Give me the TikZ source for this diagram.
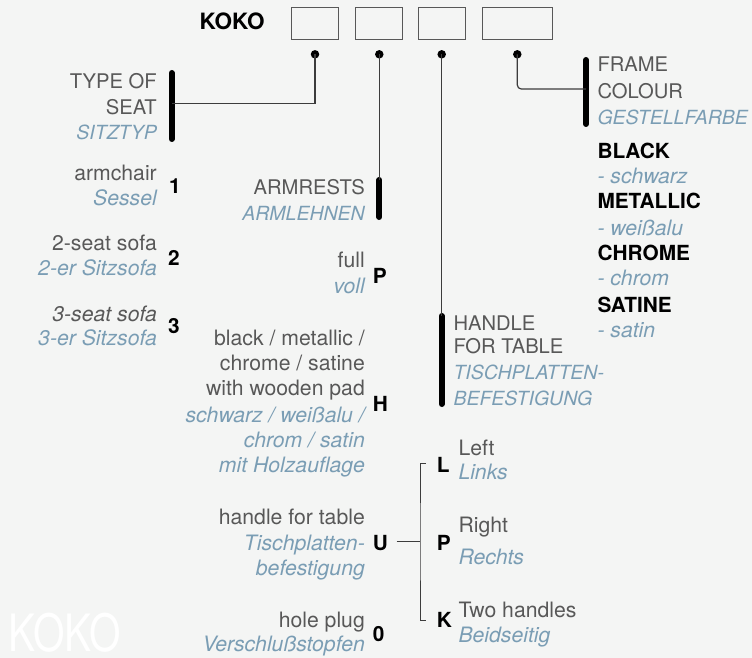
\documentclass[tikz,border=0pt]{standalone}
\usepackage{fontspec}
\setmainfont{TeX Gyre Heros}
\definecolor{bgc}{RGB}{244,245,244}
\definecolor{txtgray}{RGB}{88,88,88}
\definecolor{txtblue}{RGB}{122,157,180}
\definecolor{linec}{RGB}{60,60,60}
\tikzset{
 lbl/.style={inner sep=0pt},
 gr/.style={lbl, text=txtgray, font=\fontsize{21.2}{24}\selectfont},
 grc/.style={lbl, text=txtgray, font=\fontsize{20.2}{24}\selectfont},
 bl/.style={lbl, text=txtblue, font=\fontsize{21.2}{24}\selectfont\itshape},
 blc/.style={lbl, text=txtblue, font=\fontsize{19.5}{24}\selectfont\itshape},
 gri/.style={lbl, text=txtgray, font=\fontsize{21.2}{24}\selectfont\itshape},
 cd/.style={inner sep=0pt, font=\fontsize{20.8}{24}\selectfont\bfseries, text=black},
 rt/.style={anchor=base east}, lt/.style={anchor=base west},
 bar/.style={line width=6pt, line cap=round, draw=black},
 conn/.style={line width=1.2pt, draw=linec},
 dotn/.style={circle, fill=black, inner sep=0pt, minimum size=8.5pt},
 codebox/.style={draw=txtgray, line width=0.8pt, inner sep=0pt, minimum height=31.7pt},
}
\begin{document}
\begin{tikzpicture}[x=1pt,y=-1pt]
\fill[bgc] (0,0) rectangle (752,658);
\useasboundingbox (0,0) rectangle (752,658);
% watermark
\node[anchor=base west, inner sep=0pt, text=white, font=\fontsize{51.5}{52}\selectfont, xscale=0.785] (wm) at (8,651.7) {KOKO};
% title and code boxes
\node[anchor=base west, inner sep=0pt, font=\fontsize{22.5}{24}\selectfont\bfseries] (title) at (199.3,30) {KOKO};
\node[codebox, minimum width=46.6pt] (b1) at (315,23.2) {};
\node[codebox, minimum width=46.6pt] (b2) at (379,23.2) {};
\node[codebox, minimum width=46.6pt] (b3) at (441.7,23.2) {};
\node[codebox, minimum width=70pt] (b4) at (517.3,23.2) {};
% dots
\node[dotn] (d1) at (315,54.3) {};
\node[dotn] (d2) at (379.3,54.3) {};
\node[dotn] (d3) at (441.7,54.3) {};
\node[dotn] (d4) at (517.3,54.3) {};
% bars
\coordinate (s1) at (171.7,73); \coordinate (s2) at (171.7,139);
\coordinate (a1) at (379.3,180); \coordinate (a2) at (379.3,217);
\coordinate (h1) at (441.7,316); \coordinate (h2) at (441.7,404);
\coordinate (f1) at (586,60); \coordinate (f2) at (586,124);
\draw[bar] (s1) -- (s2);
\draw[bar] (a1) -- (a2);
\draw[bar] (h1) -- (h2);
\draw[bar] (f1) -- (f2);
% connectors
\coordinate (sj) at (171.7,103.3);
\coordinate (fj) at (586,89);
\draw[conn] (d1.center) |- (sj);
\draw[conn] (d2.center) -- (a1);
\draw[conn] (d3.center) -- (h1);
\draw[conn, rounded corners=4pt] (d4.center) |- (fj);
% type of seat
\node[grc,rt] (t1) at (157,88.3) {TYPE OF};
\node[grc,rt] (t2) at (157,114.3) {SEAT};
\node[blc,rt] (t3) at (157,139.5) {SITZTYP};
\node[gr,rt] (i1a) at (157,180) {armchair};
\node[bl,rt] (i1b) at (157,205) {Sessel};
\node[cd,lt] (c1) at (169,193) {1};
\node[gr,rt] (i2a) at (157,250) {2-seat sofa};
\node[bl,rt] (i2b) at (157,275.5) {2-er Sitzsofa};
\node[cd,lt] (c2) at (168,265) {2};
\node[gri,rt] (i3a) at (157,321.5) {3-seat sofa};
\node[bl,rt] (i3b) at (157,345.5) {3-er Sitzsofa};
\node[cd,lt] (c3) at (168,333) {3};
% armrests
\node[grc,rt] (ar1) at (365,194.3) {ARMRESTS};
\node[blc,rt] (ar2) at (365,220) {ARMLEHNEN};
\node[gr,rt] (fu1) at (365,267) {full};
\node[bl,rt] (fu2) at (365,293.3) {voll};
\node[cd,lt] (cP) at (372.7,283) {P};
\node[gr,rt] (hw1) at (365,345) {black / metallic /};
\node[gr,rt] (hw2) at (365,370) {chrome / satine};
\node[gr,rt] (hw3) at (365,395.3) {with wooden pad};
\node[bl,rt] (hw4) at (365,422) {schwarz / weißalu /};
\node[bl,rt] (hw5) at (365,447) {chrom / satin};
\node[bl,rt] (hw6) at (365,472.5) {mit Holzauflage};
\node[cd,lt] (cH) at (372.7,411) {H};
\node[gr,rt] (ht1) at (365,524.3) {handle for table};
\node[bl,rt] (ht2) at (365,550.3) {Tischplatten-};
\node[bl,rt] (ht3) at (365,575.3) {befestigung};
\node[cd,lt] (cU) at (372.7,550.3) {U};
\node[gr,rt] (hp1) at (365,627.7) {hole plug};
\node[bl,rt] (hp2) at (365,651) {Verschlußstopfen};
\node[cd,lt] (c0) at (372.7,641) {0};
% handle for table
\node[grc,lt] (hf1) at (453.3,330.3) {HANDLE};
\node[grc,lt] (hf2) at (453.3,353.7) {FOR TABLE};
\node[blc,lt] (hf3) at (453.3,379.7) {TISCHPLATTEN-};
\node[blc,lt] (hf4) at (453.3,405.3) {BEFESTIGUNG};
% handle side
\node[cd,lt] (cL) at (436.7,472) {L};
\node[cd,lt] (cP2) at (436.7,550.3) {P};
\node[cd,lt] (cK) at (436.7,627) {K};
\node[gr,lt] (le1) at (458.3,455.3) {Left};
\node[bl,lt] (le2) at (458.3,479.7) {Links};
\node[gr,lt] (ri1) at (458.3,532) {Right};
\node[bl,lt] (ri2) at (458.3,564.3) {Rechts};
\node[gr,lt] (tw1) at (458.3,617) {Two handles};
\node[bl,lt] (tw2) at (458.3,642) {Beidseitig};
\coordinate (ue) at (396.7,541.5);
\coordinate (uj) at (420,541.5);
\coordinate (bt) at (425.5,463.3);
\coordinate (bb) at (425.5,620);
\draw[conn, line width=1pt] (ue) -- (uj);
\draw[conn, line width=1pt] (bt) -| (uj) |- (bb);
% frame colour
\node[grc,lt] (fr1) at (597.3,72) {FRAME};
\node[grc,lt] (fr2) at (597.3,98.7) {COLOUR};
\node[blc,lt] (fr3) at (597.3,124.3) {GESTELLFARBE};
\node[cd,lt] (fc1) at (597.3,158) {BLACK};
\node[bl,lt] (fc1b) at (597.3,183.7) {- schwarz};
\node[cd,lt] (fc2) at (597.3,208.7) {METALLIC};
\node[bl,lt] (fc2b) at (597.3,235.3) {- weißalu};
\node[cd,lt] (fc3) at (597.3,260.3) {CHROME};
\node[bl,lt] (fc3b) at (597.3,285.3) {- chrom};
\node[cd,lt] (fc4) at (597.3,312) {SATINE};
\node[bl,lt] (fc4b) at (597.3,337) {- satin};
\end{tikzpicture}
\end{document}
